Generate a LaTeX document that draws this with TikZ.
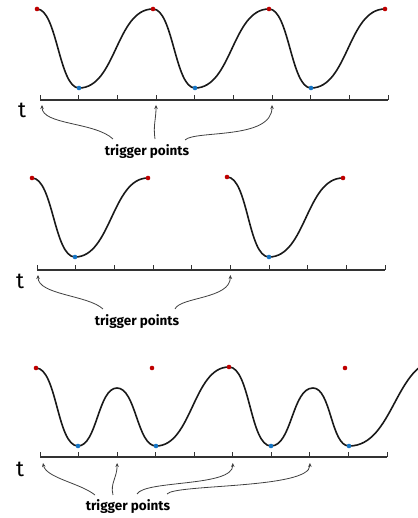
\documentclass[tikz,border=0pt]{standalone}
\usepackage{fontspec}
\newfontfamily\handfont{Fira Sans}
\usepackage{tikz}
\usetikzlibrary{
  arrows.meta,  % Stealth arrow tips
  calc,         % coordinate arithmetic
  positioning   % relative placement
}

\begin{document}
\begin{tikzpicture}[x=1pt, y=1pt, >=Stealth,
  wave/.style={line width=1.6pt, black!90},
  axis/.style={line width=1.3pt, black!80},
  tickmark/.style={line width=1pt, black!80},
  pointer/.style={line width=0.8pt, black!75, -{Stealth[length=4pt,width=3.5pt]}},
  topdot/.style={fill=red!75!black},
  lowdot/.style={fill=cyan!55!blue},
  tlabel/.style={font=\handfont\fontsize{22}{22}\selectfont},
  triglabel/.style={font=\handfont\bfseries\fontsize{13.5}{13.5}\selectfont}
]
  \useasboundingbox (0,0) rectangle (417,518);

  % =========== panel 1: regular wave ===========
  \coordinate (p1-1) at (37,509);
  \coordinate (p1-2) at (153,509);
  \coordinate (p1-3) at (269,509);
  \coordinate (p1-4) at (385,509);
  \coordinate (v1-1) at (79,430);
  \coordinate (v1-2) at (195,430);
  \coordinate (v1-3) at (311,430);
  \draw[wave] (p1-1) .. controls +(20,0) and +(-20,0) .. (v1-1)
    .. controls +(37,0) and +(-37,0) .. (p1-2)
    .. controls +(20,0) and +(-20,0) .. (v1-2)
    .. controls +(37,0) and +(-37,0) .. (p1-3)
    .. controls +(20,0) and +(-20,0) .. (v1-3)
    .. controls +(37,0) and +(-37,0) .. (p1-4);
  \foreach \i in {1,...,4} \fill[topdot] (p1-\i) circle (2.3);
  \foreach \i in {1,...,3} \fill[lowdot] (v1-\i) circle (2.3);

  % time axis with ticks
  \draw[axis] (40,418) -- (388,418);
  \foreach \i in {0,...,9} {
    \coordinate (k1-\i) at ({40+\i*38.67},418);
    \draw[tickmark] (k1-\i) -- ++(0,5);
  }
  \node[tlabel] (t1) at (22,408) {t};
  \node[triglabel] (trig1) at (147,366) {trigger points};

  % arrows to the trigger points
  \coordinate (s1a) at (113,379);
  \coordinate (s1b) at (155,379);
  \coordinate (s1c) at (185,378);
  \coordinate (h1a) at ($(k1-0)+(2,-5)$);
  \coordinate (h1b) at ($(k1-3)+(0,-5)$);
  \coordinate (h1c) at ($(k1-6)+(0,-5)$);
  \draw[pointer] (s1a) .. controls +(-18,17) and +(0,-20) .. (h1a);
  \draw[pointer] (s1b) .. controls +(-2,14) and +(0,-15) .. (h1b);
  \draw[pointer] (s1c) .. controls +(10,10) and +(0,-35) .. (h1c);

  % =========== panel 2: single cycles ===========
  \coordinate (p2-1) at (32,340);
  \coordinate (p2-2) at (148,340);
  \coordinate (p2-3) at (227,341);
  \coordinate (p2-4) at (343,340);
  \coordinate (v2-1) at (75,261);
  \coordinate (v2-2) at (269,261);
  \draw[wave] (p2-1) .. controls +(21,0) and +(-21,0) .. (v2-1)
    .. controls +(36,0) and +(-36,0) .. (p2-2);
  \draw[wave] (p2-3) .. controls +(21,0) and +(-21,0) .. (v2-2)
    .. controls +(37,0) and +(-37,0) .. (p2-4);
  \foreach \i in {1,...,4} \fill[topdot] (p2-\i) circle (2.3);
  \foreach \i in {1,2} \fill[lowdot] (v2-\i) circle (2.3);

  \draw[axis] (37,248) -- (385,248);
  \foreach \i in {0,...,9} {
    \coordinate (k2-\i) at ({37+\i*38.67},248);
    \draw[tickmark] (k2-\i) -- ++(0,5);
  }
  \node[tlabel] (t2) at (20,237) {t};
  \node[triglabel] (trig2) at (137,196) {trigger points};

  \coordinate (s2a) at (103,209);
  \coordinate (s2b) at (175,209);
  \coordinate (h2a) at ($(k2-0)+(1,-5)$);
  \coordinate (h2b) at ($(k2-5)+(0,-5)$);
  \draw[pointer] (s2a) .. controls +(-15,14) and +(0,-20) .. (h2a);
  \draw[pointer] (s2b) .. controls +(5,12) and +(0,-24) .. (h2b);

  % =========== panel 3: wave with extra humps ===========
  \coordinate (p3-1) at (36,150);
  \coordinate (p3-2) at (152,150);
  \coordinate (p3-3) at (229,151);
  \coordinate (p3-4) at (345,150);
  \coordinate (v3-1) at (78,72);
  \coordinate (v3-2) at (156,72);
  \coordinate (v3-3) at (271,72);
  \coordinate (v3-4) at (349,72);
  \coordinate (m3-1) at (117,130);
  \coordinate (m3-2) at (313,130);
  \coordinate (e3) at (440,158);
  \draw[wave] (p3-1) .. controls +(21,0) and +(-21,0) .. (v3-1)
    .. controls +(19,0) and +(-19,0) .. (m3-1)
    .. controls +(19,0) and +(-19,0) .. (v3-2)
    .. controls +(36,0) and +(-36,0) .. (p3-3)
    .. controls +(21,0) and +(-21,0) .. (v3-3)
    .. controls +(21,0) and +(-21,0) .. (m3-2)
    .. controls +(18,0) and +(-18,0) .. (v3-4)
    .. controls +(45,0) and +(-45,0) .. (e3);
  \foreach \i in {1,...,4} \fill[topdot] (p3-\i) circle (2.3);
  \foreach \i in {1,...,4} \fill[lowdot] (v3-\i) circle (2.3);

  \draw[axis] (40,61) -- (387,61);
  \foreach \i in {0,...,9} {
    \coordinate (k3-\i) at ({40+\i*38.56},61);
    \draw[tickmark] (k3-\i) -- ++(0,5);
  }
  \node[tlabel] (t3) at (20,49) {t};
  \node[triglabel] (trig3) at (128,11) {trigger points};

  \coordinate (s3a) at (95,23);
  \coordinate (s3b) at (113,23);
  \coordinate (s3c) at (137,24);
  \coordinate (s3d) at (167,24);
  \coordinate (h3a) at ($(k3-0)+(3,-6)$);
  \coordinate (h3b) at ($(k3-2)+(0,-6)$);
  \coordinate (h3c) at ($(k3-5)+(0,-6)$);
  \coordinate (h3d) at ($(k3-7)+(0,-6)$);
  \draw[pointer] (s3a) .. controls +(-15,12) and +(3,-15) .. (h3a);
  \draw[pointer] (s3b) .. controls +(-3,12) and +(0,-15) .. (h3b);
  \draw[pointer] (s3c) .. controls +(8,14) and +(0,-24) .. (h3c);
  \draw[pointer] (s3d) .. controls +(8,10) and +(0,-26) .. (h3d);

\end{tikzpicture}
\end{document}
